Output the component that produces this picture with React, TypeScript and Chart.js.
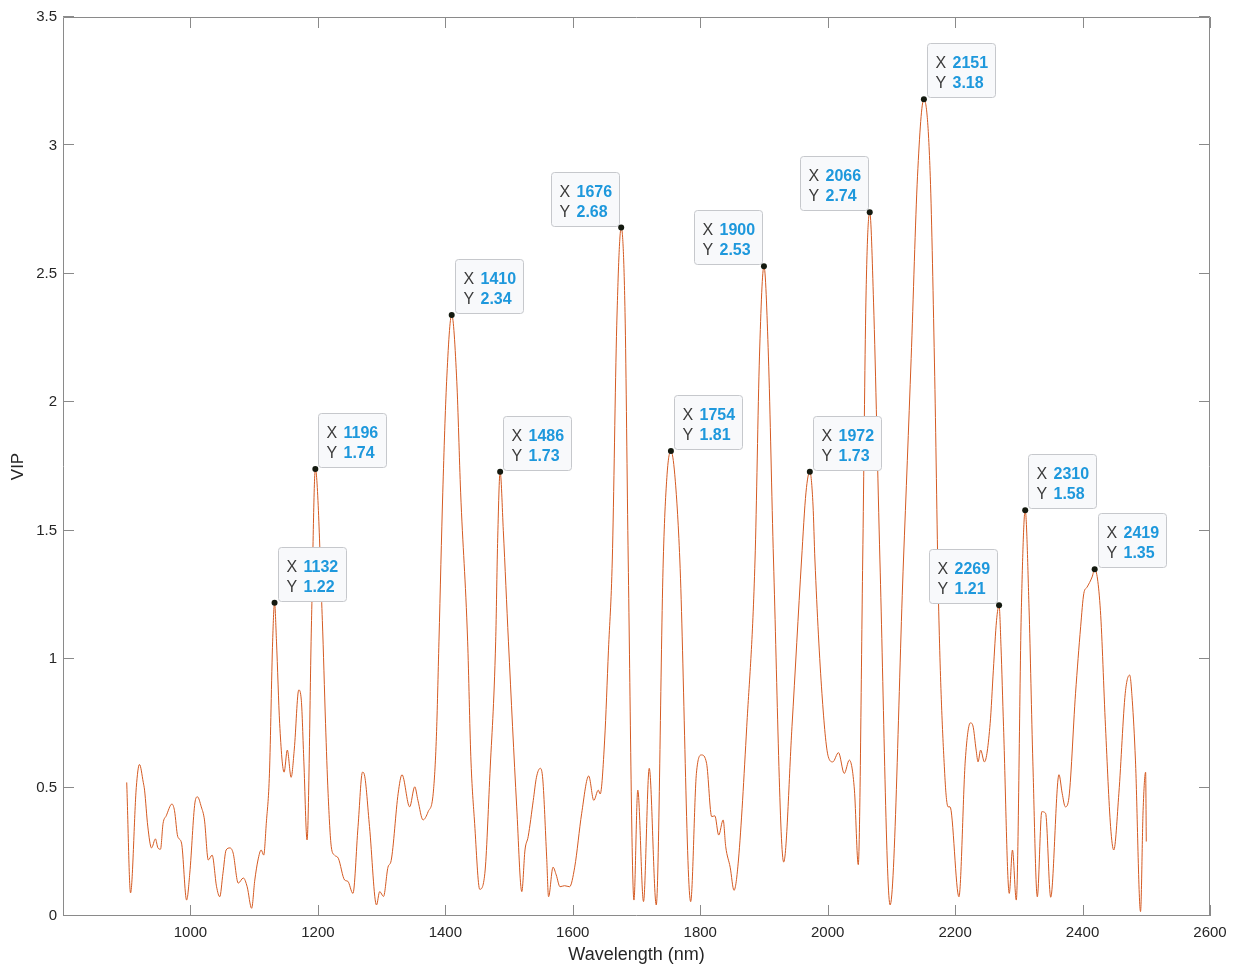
import React, { useEffect, useRef } from "react";
import { Chart, registerables } from "chart.js";

Chart.register(...registerables);

// Wavelength (nm) and VIP values
const WAVELENGTH = [
  900, 906, 915, 920, 926, 928, 933, 939, 945, 949, 953, 957, 962, 971, 975, 980, 986, 994, 999,
  1007, 1011, 1017, 1022, 1028, 1034, 1041, 1046, 1051, 1056, 1062, 1067, 1075, 1083, 1089, 1096,
  1101, 1106, 1111, 1115, 1119, 1124, 1129, 1132, 1135, 1140, 1147, 1152, 1158, 1163, 1170, 1174,
  1178, 1183, 1190, 1196, 1207, 1212, 1216, 1221, 1226, 1232, 1242, 1247, 1255, 1263, 1270, 1273,
  1281, 1292, 1297, 1303, 1310, 1315, 1326, 1332, 1344, 1352, 1357, 1365, 1373, 1381, 1386, 1390,
  1396, 1402, 1410, 1418, 1424, 1435, 1440, 1446, 1454, 1462, 1470, 1479, 1482, 1486, 1491, 1499,
  1512, 1520, 1525, 1530, 1538, 1543, 1549, 1553, 1559, 1562, 1569, 1574, 1580, 1587, 1595,
  1603, 1614, 1625, 1633, 1640, 1643, 1650, 1656, 1662, 1669, 1676, 1682, 1687, 1696, 1702, 1711,
  1720, 1731, 1742, 1748, 1754, 1760, 1768, 1785, 1794, 1802, 1810, 1818, 1823, 1829, 1836, 1840,
  1847, 1853, 1860, 1873, 1886, 1893, 1900, 1907, 1915, 1931, 1944, 1959, 1966, 1972, 1977, 1980,
  1991, 2001, 2008, 2017, 2026, 2034, 2042, 2048, 2055, 2060, 2066, 2072, 2082, 2098, 2119, 2131,
  2141, 2151, 2161, 2168, 2174, 2184, 2189, 2192, 2206, 2216, 2224, 2228, 2233, 2236, 2240, 2246,
  2255, 2260, 2265, 2269, 2272, 2276, 2285, 2290, 2296, 2304, 2310, 2316, 2322, 2329, 2336,
  2342, 2350, 2363, 2368, 2373, 2378, 2389, 2397, 2402, 2407, 2415, 2419, 2428, 2436, 2444, 2449,
  2457, 2467, 2474, 2478, 2483, 2491, 2495, 2499, 2500,
];

const VIP = [
  0.52, 0.09, 0.5, 0.59, 0.52, 0.49, 0.35, 0.265, 0.3, 0.265, 0.26, 0.36, 0.39, 0.436, 0.41, 0.31, 0.284, 0.062, 0.167,
  0.44, 0.464, 0.425, 0.374, 0.218, 0.237, 0.114, 0.075, 0.166, 0.257, 0.265, 0.245, 0.128, 0.148, 0.114, 0.03,
  0.14, 0.218, 0.257, 0.237, 0.36, 0.556, 1.07, 1.22, 1.07, 0.75, 0.56, 0.646, 0.54, 0.65, 0.88, 0.84,
  0.6, 0.296, 1.15, 1.74, 1.15, 0.75, 0.478, 0.27, 0.237, 0.225, 0.14, 0.135, 0.088, 0.348, 0.56, 0.55,
  0.348, 0.043, 0.095, 0.076, 0.19, 0.216, 0.478, 0.55, 0.425, 0.503, 0.45, 0.374, 0.406, 0.478, 0.7, 1.07,
  1.65, 2.08, 2.34, 2.08, 1.65, 1.07, 0.62, 0.36, 0.104, 0.166, 0.555, 1.07, 1.45, 1.73, 1.5, 1.07,
  0.425, 0.095, 0.257, 0.309, 0.45, 0.54, 0.575, 0.53, 0.23, 0.075, 0.19, 0.16, 0.114, 0.118, 0.114,
  0.19, 0.4, 0.545, 0.45, 0.49, 0.475, 0.685, 1.035, 1.386, 2.3, 2.68, 2.35, 1.386, 0.062, 0.49, 0.056,
  0.575, 0.043, 1.386, 1.72, 1.81, 1.72, 1.386, 0.056, 0.555, 0.627, 0.594, 0.387, 0.39, 0.315, 0.374, 0.27,
  0.19, 0.1, 0.218, 0.737, 1.386, 2.18, 2.53, 2.18, 1.386, 0.21, 0.737, 1.386, 1.65, 1.73, 1.6, 1.386,
  0.867, 0.62, 0.6, 0.636, 0.555, 0.607, 0.49, 0.2, 1.386, 2.39, 2.74, 2.39, 1.386, 0.043, 1.386, 2.17,
  2.88, 3.18, 2.88, 2.1, 1.217, 0.54, 0.425, 0.425, 0.075, 0.607, 0.752, 0.74, 0.646, 0.6, 0.646, 0.6,
  0.75, 0.957, 1.15, 1.21, 1.05, 0.737, 0.088, 0.257, 0.062, 1.2, 1.58, 1.2, 0.6, 0.075, 0.406,
  0.4, 0.073, 0.55, 0.478, 0.425, 0.45, 0.867, 1.126, 1.256, 1.28, 1.32, 1.35, 1.19, 0.737, 0.348, 0.257,
  0.478, 0.867, 0.938, 0.84, 0.607, 0.017, 0.41, 0.56, 0.29,
];

// Data tips
const TIP_X = [1132, 1196, 1410, 1486, 1676, 1754, 1900, 1972, 2066, 2151, 2269, 2310, 2419];
const TIP_Y = [1.22, 1.74, 2.34, 1.73, 2.68, 1.81, 2.53, 1.73, 2.74, 3.18, 1.21, 1.58, 1.35];
const TIP_SIDE = ["right", "right", "right", "right", "left", "right", "left", "right", "left", "right", "left", "right", "right"];

const X_TICKS = [1000, 1200, 1400, 1600, 1800, 2000, 2200, 2400, 2600];
const Y_TICKS = [0, 0.5, 1, 1.5, 2, 2.5, 3, 3.5];

const FONT = 'Arial, "Liberation Sans", Helvetica, sans-serif';
const AXIS_COLOR = "#8a8a8a";
const TEXT_COLOR = "#262626";

const framePlugin = {
  id: "matlabFrame",
  afterDatasetsDraw(chart: any) {
    const { ctx, chartArea } = chart;
    const { left, right, top, bottom } = chartArea;
    const xs = chart.scales.x;
    const ys = chart.scales.y;
    ctx.save();
    ctx.strokeStyle = AXIS_COLOR;
    ctx.lineWidth = 1;
    ctx.beginPath();
    ctx.rect(Math.round(left) + 0.5, Math.round(top) + 0.5, Math.round(right - left) - 1, Math.round(bottom - top) - 1);
    ctx.stroke();
    const TL = 11;
    ctx.beginPath();
    X_TICKS.forEach((v) => {
      const p = Math.round(xs.getPixelForValue(v)) + 0.5;
      ctx.moveTo(p, bottom);
      ctx.lineTo(p, bottom - TL);
      ctx.moveTo(p, top);
      ctx.lineTo(p, top + TL);
    });
    Y_TICKS.forEach((v) => {
      const p = Math.round(ys.getPixelForValue(v)) - 0.5;
      ctx.moveTo(left, p);
      ctx.lineTo(left + TL, p);
      ctx.moveTo(right, p);
      ctx.lineTo(right - TL, p);
    });
    ctx.stroke();
    ctx.restore();
  },
  afterDraw(chart: any) {
    const { ctx } = chart;
    const xs = chart.scales.x;
    const ys = chart.scales.y;
    const W = 68;
    const H = 54;
    ctx.save();
    TIP_X.forEach((xv, i) => {
      const yv = TIP_Y[i];
      const px = xs.getPixelForValue(xv);
      const py = ys.getPixelForValue(yv);
      const bx = Math.round(TIP_SIDE[i] === "left" ? px - 2 - W : px + 3) + 0.5;
      const by = Math.round(py - 2 - H) + 0.5;
      ctx.beginPath();
      ctx.roundRect(bx, by, W, H, 3);
      ctx.fillStyle = "#f8f9fb";
      ctx.fill();
      ctx.strokeStyle = "#c6c8cc";
      ctx.lineWidth = 1;
      ctx.stroke();
      ctx.textBaseline = "alphabetic";
      ctx.textAlign = "left";
      ctx.font = `16px ${FONT}`;
      ctx.fillStyle = "#3c3c3c";
      ctx.fillText("X", bx + 8, by + 24);
      ctx.fillText("Y", bx + 8, by + 44);
      ctx.font = `bold 16px ${FONT}`;
      ctx.fillStyle = "#1e98dc";
      ctx.fillText(String(xv), bx + 25, by + 24);
      ctx.fillText(yv.toFixed(2), bx + 25, by + 44);
      ctx.beginPath();
      ctx.arc(px, py, 3, 0, Math.PI * 2);
      ctx.fillStyle = "#141a10";
      ctx.fill();
    });
    ctx.restore();
  },
};

export default function App() {
  const ref = useRef<HTMLCanvasElement | null>(null);

  useEffect(() => {
    if (!ref.current) return;
    const chart = new Chart(ref.current, {
      type: "line",
      data: {
        datasets: [
          {
            data: WAVELENGTH.map((x, i) => ({ x, y: VIP[i] })),
            borderColor: "#d45a22",
            borderWidth: 1,
            pointRadius: 0,
            fill: false,
            cubicInterpolationMode: "monotone",
          } as any,
        ],
      },
      options: {
        responsive: false,
        animation: false,
        devicePixelRatio: 1,
        layout: { padding: { top: 17, right: 25, left: 0, bottom: 0 } },
        plugins: {
          legend: { display: false },
          tooltip: { enabled: false },
        },
        scales: {
          x: {
            type: "linear",
            min: 800,
            max: 2600,
            afterBuildTicks: (s: any) => {
              s.ticks = X_TICKS.map((v) => ({ value: v }));
            },
            afterFit: (s: any) => {
              s.height = 48;
            },
            grid: { display: false, drawTicks: false },
            border: { display: false },
            ticks: {
              padding: 8,
              maxRotation: 0,
              autoSkip: false,
              color: TEXT_COLOR,
              font: { family: FONT, size: 15 },
              callback: (v: any) => String(v),
            },
            title: {
              display: true,
              text: "Wavelength (nm)",
              color: TEXT_COLOR,
              font: { family: FONT, size: 18, lineHeight: 1 },
              padding: { top: 0, bottom: 0 },
            },
          },
          y: {
            type: "linear",
            min: 0,
            max: 3.5,
            afterBuildTicks: (s: any) => {
              s.ticks = Y_TICKS.map((v) => ({ value: v }));
            },
            afterFit: (s: any) => {
              s.width = 63;
            },
            grid: { display: false, drawTicks: false },
            border: { display: false },
            ticks: {
              padding: 6,
              autoSkip: false,
              color: TEXT_COLOR,
              font: { family: FONT, size: 15 },
              callback: (v: any) => String(v),
            },
            title: {
              display: true,
              text: "VIP",
              color: TEXT_COLOR,
              font: { family: FONT, size: 17, lineHeight: 1 },
              padding: { top: 9.5, bottom: 0 },
            },
          },
        },
      },
      plugins: [framePlugin],
    });
    return () => chart.destroy();
  }, []);

  return (
    <div style={{ position: "fixed", left: 0, top: 0, width: 1235, height: 964, background: "#fff" }}>
      <canvas ref={ref} width={1235} height={964} style={{ display: "block" }} />
    </div>
  );
}
